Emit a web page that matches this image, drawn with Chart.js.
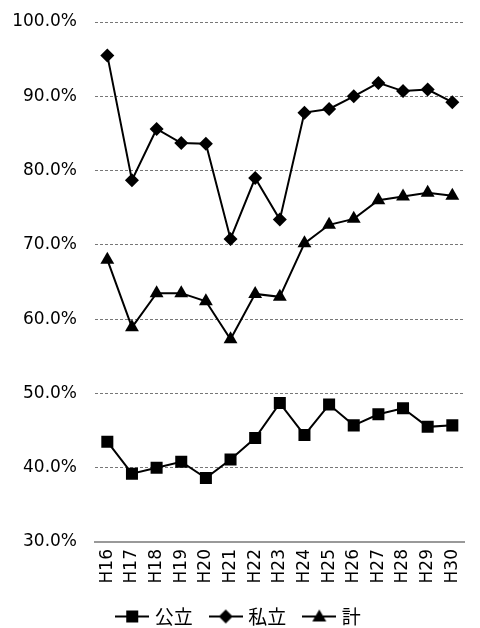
<!DOCTYPE html>
<html>
<head>
<meta charset="utf-8">
<script src="https://cdn.jsdelivr.net/npm/chart.js@4/dist/chart.umd.min.js"></script>
<style>
  html, body { margin: 0; padding: 0; background: #fff; }
  #wrap { width: 480px; height: 628px; position: relative; }
</style>
</head>
<body>
<div id="wrap"><canvas id="c"></canvas></div>
<script>
const years = ['H16','H17','H18','H19','H20','H21','H22','H23','H24','H25','H26','H27','H28','H29','H30'];
const publicRate = [43.5, 39.2, 40.0, 40.8, 38.6, 41.1, 44.0, 48.7, 44.4, 48.5, 45.7, 47.2, 48.0, 45.5, 45.7];
const privateRate = [95.5, 78.7, 85.6, 83.7, 83.6, 70.8, 79.0, 73.4, 87.8, 88.3, 90.0, 91.8, 90.7, 90.9, 89.2];
const totalRate = [68.0, 58.9, 63.5, 63.5, 62.4, 57.3, 63.4, 63.0, 70.2, 72.7, 73.5, 76.0, 76.5, 77.0, 76.6];
const seriesNames = ['公立', '私立', '計'];
const yTicks = [30, 40, 50, 60, 70, 80, 90, 100];

// legend icon: line with the marker in the middle
const legendIcon = (style) => {
	const cv = document.createElement('canvas');
	cv.width = 34; cv.height = 16;
	const g = cv.getContext('2d');
	g.strokeStyle = '#000'; g.fillStyle = '#000'; g.lineWidth = 2;
	g.beginPath(); g.moveTo(0, 8); g.lineTo(34, 8); g.stroke();
	g.beginPath();
	if (style === 'rect') {
		g.rect(11, 2, 12, 12);
	} else if (style === 'rectRot') {
		g.moveTo(10, 8); g.lineTo(17, 1); g.lineTo(24, 8); g.lineTo(17, 15);
	} else {
		g.moveTo(17, 1); g.lineTo(24, 13); g.lineTo(10, 13);
	}
	g.closePath(); g.fill();
	return cv;
};

const mk = (label, data, style, r) => ({
	label: label,
	data: data,
	borderColor: '#000',
	backgroundColor: '#000',
	borderWidth: 2,
	pointStyle: style,
	pointRadius: r,
	pointHoverRadius: r,
	pointBorderWidth: 0,
	tension: 0,
	legendIcon: legendIcon(style)
});

new Chart(document.getElementById('c'), {
	type: 'line',
	data: {
		labels: years,
		datasets: [
			mk(seriesNames[0], publicRate, 'rect', 8.5),
			mk(seriesNames[1], privateRate, 'rectRot', 7),
			mk(seriesNames[2], totalRate, 'triangle', 8)
		]
	},
	options: {
		responsive: true,
		maintainAspectRatio: false,
		animation: false,
		layout: { padding: { top: 22, right: 0, bottom: -8, left: 0 } },
		plugins: {
			tooltip: { enabled: false },
			legend: {
				position: 'bottom',
				labels: {
					usePointStyle: true,
					pointStyleWidth: 26,
					color: '#000',
					font: { family: '"Noto Sans CJK JP", "DejaVu Sans", sans-serif', size: 19 },
					padding: 20,
					generateLabels: (chart) => chart.data.datasets.map((ds, i) => ({
						text: ds.label,
						pointStyle: ds.legendIcon,
						fillStyle: '#000',
						strokeStyle: '#000',
						lineWidth: 0,
						hidden: false,
						datasetIndex: i
					}))
				}
			}
		},
		scales: {
			x: {
				offset: true,
				afterFit: (scale) => { scale.height = 45; },
				grid: { display: false, drawTicks: false },
				border: { display: true, color: '#999', width: 2 },
				ticks: {
					minRotation: 90,
					maxRotation: 90,
					padding: 7,
					color: '#000',
					font: { family: '"DejaVu Sans", sans-serif', size: 17 }
				}
			},
			y: {
				min: 30,
				max: 100,
				afterFit: (scale) => {
					scale.width = 95;
					scale.paddingTop = 10;
					scale.paddingBottom = 10;
				},
				afterBuildTicks: (scale) => { scale.ticks = yTicks.map((v) => ({ value: v })); },
				grid: {
					drawTicks: false,
					color: (ctx) => ctx.tick && ctx.tick.value === 30 ? 'rgba(0,0,0,0)' : '#777',
					lineWidth: 1
				},
				border: { display: false, dash: [3, 2] },
				ticks: {
					padding: 18,
					color: '#000',
					font: { family: '"DejaVu Sans", sans-serif', size: 17 },
					callback: (v) => v.toFixed(1) + '%'
				}
			}
		}
	}
});
</script>
</body>
</html>
